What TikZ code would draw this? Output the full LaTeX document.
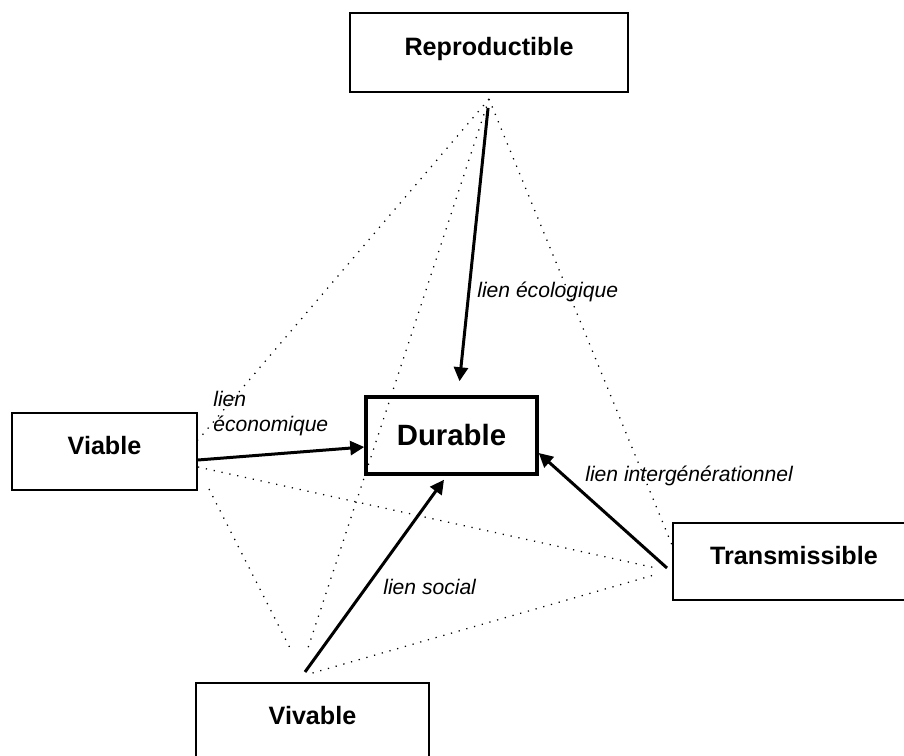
\documentclass[tikz,border=0pt]{standalone}
\usepackage{fontspec}
\setmainfont{Liberation Sans}
\usetikzlibrary{arrows.meta}

\begin{document}
\begin{tikzpicture}[
x=.2mm, y=-.2mm,
box/.style={draw, line width=.4mm, minimum height=15.4mm, text height=3.6mm, text depth=2.4mm, font=\fontsize{14.3}{17}\selectfont\bfseries},
core/.style={draw, line width=.7mm, minimum width=34.2mm, minimum height=15.4mm, font=\fontsize{16.7}{20}\selectfont\bfseries},
link/.style={line width=.6mm, -{Triangle[length=2.8mm,width=2.8mm]}},
lab/.style={font=\fontsize{12}{14.2}\selectfont\itshape, inner sep=0pt},
help/.style={line width=.25mm, dash pattern=on .25mm off 1.35mm}
]

%% Frame
\useasboundingbox (0,0) rectangle (904,756);
\clip (0,0) rectangle (904,756);

%% Boxes
\node[box, minimum width=55.6mm, minimum height=15.8mm] (repro) at (489,52.5) {Reproductible};
\node[core] (durable) at (451.5,435.5) {Durable};
\node[box, minimum width=37mm] (viable) at (104.5,451.5) {Viable};
\node[box, minimum width=48.4mm] (trans) at (794,561.5) {Transmissible};
\node[box, minimum width=46.6mm] (vivable) at (312.5,721.5) {Vivable};

%% Dotted ties between the outer boxes
\coordinate (R) at ([yshift=-1.2mm]repro.south);
\draw[help] (R)--([yshift=2.3mm]viable.east);
\draw[help] (R)--([xshift=-1.1mm,yshift=6.2mm]vivable.north);
\draw[help] (R)--([yshift=3.3mm]trans.west);
\draw[help] ([xshift=2.2mm,yshift=.4mm]viable.south east)--([xshift=-4.1mm,yshift=6mm]vivable.north);
\draw[help] ([yshift=-3.1mm]viable.east)--([xshift=-3.2mm,yshift=-1.3mm]trans.west);
\draw[help] ([yshift=1.8mm]vivable.north)--([xshift=-3.6mm,yshift=-2.7mm]trans.west);

%% Links to Durable
\draw[link, shorten <=1.8mm] (R)--([xshift=1.6mm,yshift=2.8mm]durable.north);
\draw[link] ([yshift=-1.7mm]viable.east)--([yshift=-2.3mm]durable.west);
\draw[link] ([xshift=-1mm,yshift=-1.3mm]trans.west)--([yshift=-3.5mm]durable.east);
\draw[link] ([xshift=-1.5mm,yshift=2mm]vivable.north)--([xshift=-1.5mm,yshift=-.8mm]durable.south);

%% Labels
\node[lab, anchor=west] (lecolo) at (477,292) {lien écologique};
\node[lab, anchor=west, align=left] (leco) at (213,413.5) {lien\\économique};
\node[lab, anchor=west] (linter) at (585,476) {lien intergénérationnel};
\node[lab, anchor=west] (lsoc) at (383,587) {lien social};

\end{tikzpicture}
\end{document}
